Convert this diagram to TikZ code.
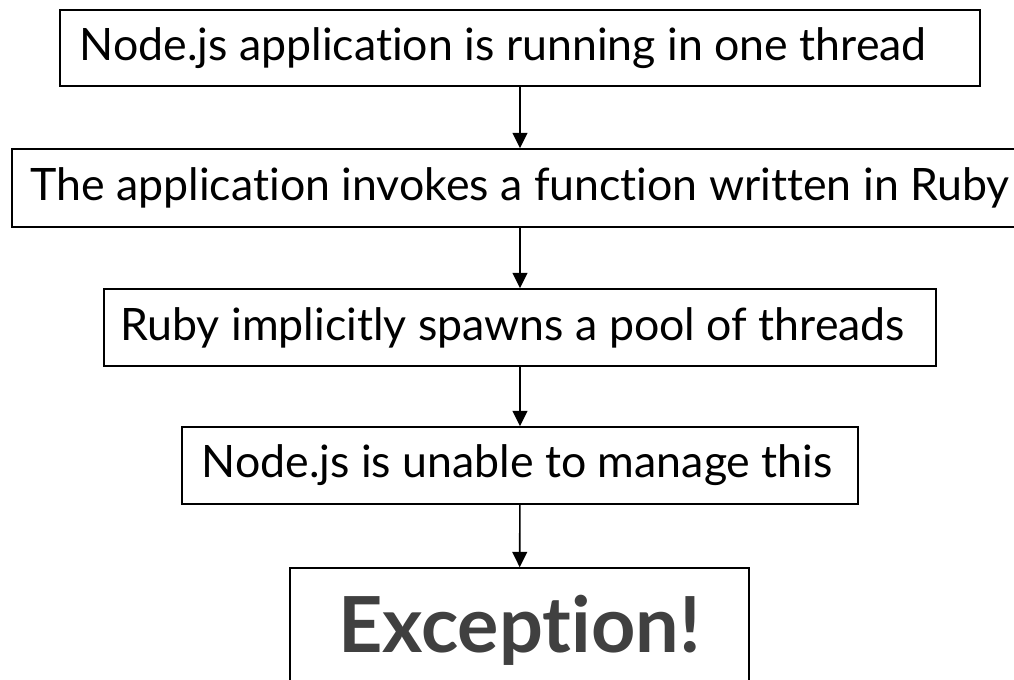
\documentclass[tikz,border=0pt]{standalone}
\usepackage{fontspec}
\setmainfont{Lato}[Ligatures=NoCommon]
\usetikzlibrary{arrows.meta}
\definecolor{excgray}{HTML}{404040}
\begin{document}
\begin{tikzpicture}[x=0.75pt,y=-0.75pt,
  stepbox/.style={draw=black,line width=1.1pt,inner sep=0pt,align=center,
    font=\fontsize{33.5}{40}\selectfont},
  flow/.style={draw=black,line width=1.2pt,-{Triangle[width=11pt,length=11.5pt]}}]
\useasboundingbox (0,0) rectangle (1014,679);
\clip (0,0) rectangle (1014,679);
\node[stepbox,minimum width=920*0.75pt,minimum height=76*0.75pt] (b1) at (520,48) {Node.js application is running in one thread\hspace*{25pt}};
\node[stepbox,minimum width=1016*0.75pt,minimum height=78*0.75pt] (b2) at (520,188) {The application invokes a function written in Ruby};
\node[stepbox,minimum width=832*0.75pt,minimum height=77*0.75pt] (b3) at (520,327.5) {Ruby implicitly spawns a pool of threads\hspace*{11pt}};
\node[stepbox,minimum width=676*0.75pt,minimum height=77*0.75pt] (b4) at (520,465.5) {Node.js is unable to manage this\hspace*{4pt}};
\node[stepbox,minimum width=459*0.75pt,minimum height=124*0.75pt,text=excgray,font=\fontsize{58}{68}\selectfont\bfseries] (b5) at (519.5,630) {Exception!};
\draw[flow] (b1) -- (b2);
\draw[flow] (b2) -- (b3);
\draw[flow] (b3) -- (b4);
\draw[flow] (b4) -- (b5);
\end{tikzpicture}
\end{document}
